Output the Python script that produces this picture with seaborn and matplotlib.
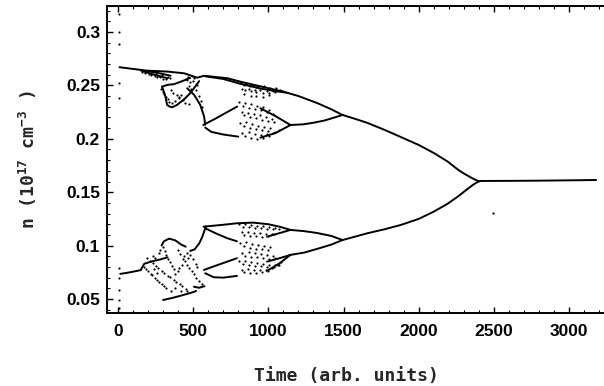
import matplotlib
matplotlib.use("Agg")
import matplotlib.pyplot as plt
from matplotlib.ticker import MultipleLocator, FuncFormatter
import seaborn as sns
import pandas as pd

# ---------------- data ----------------
top_x = [10, 190, 330, 440, 527, 573, 727, 813, 950, 1100, 1200, 1327, 1420, 1493,
         1580, 1660, 1770, 1880, 2000, 2100, 2190, 2260, 2300, 2340, 2370, 2395]
top_y = [0.2670, 0.2638, 0.2629, 0.2613, 0.2572, 0.2590, 0.2567, 0.2535, 0.2490, 0.2441,
         0.2400, 0.2333, 0.2275, 0.2223, 0.2185, 0.2148, 0.2085, 0.2017, 0.1942, 0.1867,
         0.1789, 0.1712, 0.1675, 0.1643, 0.1620, 0.1605]
flat_x = [2395, 2600, 2800, 3000, 3180]
flat_y = [0.1605, 0.1606, 0.1608, 0.1611, 0.1614]
low_x = [1493, 1580, 1660, 1770, 1880, 2000, 2100, 2190, 2260, 2320, 2360, 2390, 2410]
low_y = [0.1052, 0.1085, 0.1116, 0.1152, 0.1193, 0.1250, 0.1318, 0.1390, 0.1459,
         0.1525, 0.1568, 0.1594, 0.1605]

# period-2 branches
p2a_x = [1147, 1230, 1300, 1370, 1430, 1493]
p2a_y = [0.2129, 0.2135, 0.2150, 0.2170, 0.2195, 0.2223]
p2b_x = [1147, 1240, 1324, 1420, 1493]
p2b_y = [0.1147, 0.1135, 0.1118, 0.1090, 0.1052]
p2c_x = [1147, 1240, 1324, 1420, 1493]
p2c_y = [0.0913, 0.0935, 0.0969, 0.1010, 0.1052]

# period-4 and chaos edges
u2_x = [580, 700, 813, 950, 1050, 1120]
u2_y = [0.2585, 0.2560, 0.2515, 0.2470, 0.2445, 0.2432]
udiag_x = [567, 650, 720, 793]
udiag_y = [0.2129, 0.2190, 0.2245, 0.2302]
ubot_x = [580, 620, 700, 800]
ubot_y = [0.2105, 0.2065, 0.2040, 0.2020]
ue1_x = [947, 1050, 1147]
ue1_y = [0.2286, 0.2210, 0.2129]
ue2_x = [947, 1050, 1147]
ue2_y = [0.2010, 0.2055, 0.2129]
ltop_x = [569, 700, 791, 900, 1000, 1080, 1147]
ltop_y = [0.1177, 0.1195, 0.1209, 0.1215, 0.1200, 0.1175, 0.1147]
ldiag1_x = [580, 650, 727, 791]
ldiag1_y = [0.1162, 0.1115, 0.1069, 0.1040]
ldiag2_x = [571, 650, 727, 791]
ldiag2_y = [0.0772, 0.0812, 0.0850, 0.0882]
lbot_x = [580, 636, 700, 791]
lbot_y = [0.0741, 0.0704, 0.0700, 0.0716]
le1_x = [991, 1070, 1147]
le1_y = [0.1083, 0.1115, 0.1147]
le2_x = [991, 1070, 1147]
le2_y = [0.0850, 0.0880, 0.0913]
le3_x = [991, 1070, 1147]
le3_y = [0.0763, 0.0830, 0.0913]

# early (0-580) structures
fan1_x = [150, 240, 330]
fan1_y = [0.2640, 0.2600, 0.2567]
fan2_x = [200, 280, 350]
fan2_y = [0.2632, 0.2612, 0.2590]
loop1_x = [293, 330, 371, 410, 447, 480]
loop1_y = [0.2488, 0.2505, 0.2511, 0.2530, 0.2551, 0.2570]
loop2_x = [293, 313, 327, 345, 360, 393]
loop2_y = [0.2488, 0.2410, 0.2317, 0.2300, 0.2295, 0.2317]
diagup_x = [393, 440, 480, 513, 540]
diagup_y = [0.2317, 0.2370, 0.2426, 0.2488, 0.2540]
diagdn_x = [460, 507, 547, 573, 580]
diagdn_y = [0.2473, 0.2410, 0.2317, 0.2207, 0.2130]
linit_x = [15, 80, 150]
linit_y = [0.0735, 0.0750, 0.0770]
la_x = [150, 175, 220, 280, 330]
la_y = [0.0770, 0.0830, 0.0850, 0.0870, 0.0890]
bump_x = [290, 305, 340, 380, 420, 450]
bump_y = [0.1000, 0.1040, 0.1065, 0.1050, 0.1010, 0.0990]
rise_x = [480, 510, 540, 560, 575, 585]
rise_y = [0.0950, 0.0965, 0.1020, 0.1080, 0.1140, 0.1180]
lb_x = [300, 370, 440, 490, 520]
lb_y = [0.0491, 0.0513, 0.0540, 0.0560, 0.0575]
seg_x = [505, 540, 575]
seg_y = [0.0615, 0.0605, 0.0620]

trans_pts = [(10, .3168), (10, .3003), (10, .2888), (10, .2523), (10, .2382),
             (10, .0791), (10, .0698), (10, .0585), (10, .0490), (10, .0416)]
stray_pts = [(2493, .1305)]
early_up_pts = [(160, .2625), (183, .2612), (204, .2611), (219, .2598), (243, .2592),
                (262, .2582), (278, .2577), (301, .2562), (322, .2561), (251, .2606),
                (292, .2594), (333, .2578), (348, .2572),
                (288, .2468), (302, .2441), (308, .2418), (321, .2392), (333, .2372),
                (338, .2348), (362, .2331), (378, .2352), (403, .2378), (418, .2413),
                (352, .2452), (368, .2428), (393, .2412), (408, .2388), (432, .2362),
                (447, .2338), (473, .2321),
                (452, .2561), (467, .2582), (492, .2588), (508, .2571), (502, .2538),
                (478, .2531), (461, .2547),
                (472, .2498), (488, .2462), (522, .2452), (538, .2402), (561, .2298),
                (528, .2502), (552, .2352)]
early_low_pts = [(170, .0800), (186, .0778), (199, .0762), (217, .0738), (229, .0722),
                 (247, .0698), (258, .0682), (276, .0658), (291, .0642), (303, .0618),
                 (322, .0601),
                 (190, .0880), (212, .0858), (233, .0837), (256, .0808), (268, .0792),
                 (292, .0763), (308, .0747), (331, .0718), (348, .0702), (372, .0678),
                 (388, .0662), (412, .0638), (428, .0622), (452, .0598),
                 (300, .0990), (312, .0948), (318, .0912), (332, .0873), (343, .0842),
                 (362, .0808), (373, .0782),
                 (402, .0958), (413, .0922), (432, .0878), (443, .0852), (462, .0818),
                 (473, .0792), (492, .0758), (503, .0732), (522, .0698), (538, .0672),
                 (557, .0638),
                 (378, .0732), (397, .0758), (408, .0792), (427, .0818), (438, .0902),
                 (457, .0928), (468, .0882), (482, .0908), (498, .0872), (517, .0828),
                 (528, .0802),
                 (232, .0898), (248, .0882), (272, .0928), (278, .0962), (262, .0748),
                 (238, .0782), (352, .0578), (378, .0602), (422, .0578), (458, .0572)]
chaos_up_pts = [(812, .2522), (838, .2501), (851, .2517), (879, .2492), (893, .2508),
                (918, .2481), (931, .2497), (958, .2476), (972, .2491), (998, .2468),
                (1012, .2480), (1039, .2458), (1052, .2471), (1078, .2452), (1093, .2451),
                (827, .2467), (843, .2458), (869, .2462), (882, .2446), (908, .2461),
                (921, .2437), (947, .2452), (962, .2432), (988, .2447), (1003, .2429),
                (1028, .2443), (1041, .2436), (836, .2418), (884, .2402), (917, .2403),
                (963, .2394), (1004, .2412),
                (807, .2344), (833, .2306), (847, .2334), (874, .2291), (887, .2323),
                (913, .2281), (927, .2309), (954, .2266), (967, .2293), (993, .2251),
                (1007, .2273), (1033, .2236),
                (822, .2254), (837, .2221), (863, .2243), (877, .2201), (903, .2234),
                (917, .2191), (943, .2219), (957, .2176), (983, .2204), (997, .2166),
                (1023, .2189), (1037, .2157),
                (812, .2144), (838, .2116), (852, .2154), (878, .2101), (892, .2134),
                (918, .2091), (932, .2124), (958, .2081), (972, .2114), (998, .2076),
                (1012, .2104),
                (828, .2054), (842, .2026), (868, .2064), (882, .2011), (908, .2049),
                (922, .2002), (948, .2039), (962, .2006), (988, .2044), (1002, .2026),
                (1028, .2054), (1042, .2061), (1068, .2084)]
chaos_low_pts = [(807, .1198), (833, .1177), (847, .1203), (873, .1172), (887, .1193),
                 (913, .1167), (927, .1188), (953, .1162), (967, .1183), (993, .1157),
                 (1007, .1175), (1033, .1155), (1047, .1168), (1073, .1152),
                 (822, .1124), (837, .1101), (863, .1129), (877, .1091), (903, .1119),
                 (917, .1086), (943, .1114), (957, .1081), (983, .1104), (997, .1086),
                 (1023, .1109), (1037, .1106),
                 (812, .1024), (838, .0996), (852, .1034), (878, .0981), (892, .1014),
                 (918, .0971), (932, .1004), (958, .0966), (972, .0994), (998, .0961),
                 (1012, .0984),
                 (828, .0934), (842, .0906), (868, .0939), (882, .0896), (908, .0929),
                 (922, .0891), (948, .0919), (962, .0886), (988, .0909), (1002, .0876),
                 (1028, .0899), (1042, .0881),
                 (807, .0854), (833, .0826), (847, .0859), (873, .0816), (887, .0849),
                 (913, .0811), (927, .0839), (953, .0806), (967, .0829), (993, .0801),
                 (1007, .0819), (1033, .0796), (1047, .0814), (1073, .0816), (1087, .0844),
                 (823, .0774), (837, .0751), (863, .0779), (877, .0741), (903, .0774),
                 (917, .0746), (943, .0769), (957, .0751), (983, .0774), (997, .0766),
                 (1023, .0789), (1037, .0796), (1063, .0819)]

x_ticks = [0, 500, 1000, 1500, 2000, 2500, 3000]
y_ticks = [0.05, 0.1, 0.15, 0.2, 0.25, 0.3]
x_label = "Time (arb. units)"
y_label = r"n (10$^{17}$ cm$^{-3}$ )"

# ---------------- figure ----------------
sns.set_theme(style="ticks")
plt.rcParams["font.family"] = ["Liberation Sans", "DejaVu Sans"]
plt.rcParams["mathtext.default"] = "regular"

fig = plt.figure(figsize=(6.04, 3.86), dpi=100)
ax = fig.add_axes([107 / 604, 1 - 313 / 386, 1 - 107 / 604 + 0.002, (313 - 6) / 386])

branches = [(top_x, top_y), (flat_x, flat_y), (low_x, low_y),
            (p2a_x, p2a_y), (p2b_x, p2b_y), (p2c_x, p2c_y),
            (u2_x, u2_y), (udiag_x, udiag_y), (ubot_x, ubot_y),
            (ue1_x, ue1_y), (ue2_x, ue2_y),
            (ltop_x, ltop_y), (ldiag1_x, ldiag1_y), (ldiag2_x, ldiag2_y),
            (lbot_x, lbot_y), (le1_x, le1_y), (le2_x, le2_y), (le3_x, le3_y),
            (fan1_x, fan1_y), (fan2_x, fan2_y), (loop1_x, loop1_y), (loop2_x, loop2_y),
            (diagup_x, diagup_y), (diagdn_x, diagdn_y),
            (linit_x, linit_y), (la_x, la_y), (bump_x, bump_y), (rise_x, rise_y),
            (lb_x, lb_y), (seg_x, seg_y)]
rows = []
for i, (bx, by) in enumerate(branches):
    for xv, yv in zip(bx, by):
        rows.append({"x": xv, "y": yv, "b": i})
df_lines = pd.DataFrame(rows)
sns.lineplot(data=df_lines, x="x", y="y", units="b", estimator=None, sort=False,
             color="black", lw=1.4, ax=ax)

dots = trans_pts + stray_pts + early_up_pts + early_low_pts + chaos_up_pts + chaos_low_pts
df_dots = pd.DataFrame(dots, columns=["x", "y"])
sns.scatterplot(data=df_dots, x="x", y="y", s=2.5, color="black", linewidth=0, ax=ax)

ax.set_xlim(-73, 3240)
ax.set_ylim(0.0369, 0.3243)
ax.set_xticks(x_ticks)
ax.set_yticks(y_ticks)
ax.xaxis.set_minor_locator(MultipleLocator(100))
ax.yaxis.set_minor_locator(MultipleLocator(0.01))
ax.yaxis.set_major_formatter(FuncFormatter(lambda v, p: f"{v:g}"))
ax.xaxis.set_major_formatter(FuncFormatter(lambda v, p: f"{int(round(v))}"))
ax.tick_params(which="both", direction="in", top=True, right=False, colors="black")
ax.tick_params(which="major", length=4, width=1.0)
ax.tick_params(which="minor", length=2.5, width=0.8)
ax.tick_params(axis="x", which="major", pad=8)
ax.tick_params(axis="y", which="major", pad=5)
for lab in ax.get_xticklabels() + ax.get_yticklabels():
    lab.set_fontsize(12.5)
    lab.set_fontweight("bold")
    lab.set_color("black")
for s in ["left", "bottom", "top"]:
    ax.spines[s].set_linewidth(1.4)
    ax.spines[s].set_color("black")
ax.spines["right"].set_visible(False)
ax.set_xlabel("")
ax.set_ylabel("")

fig.text(346 / 604, 1 - 376 / 386, x_label, ha="center", va="center",
         family="DejaVu Sans Mono", fontweight="bold", fontsize=13)
fig.text(28 / 604, 1 - 160 / 386, y_label, ha="center", va="center", rotation=90,
         family="DejaVu Sans Mono", fontweight="bold", fontsize=13)

fig.savefig("out.png", dpi=100)
